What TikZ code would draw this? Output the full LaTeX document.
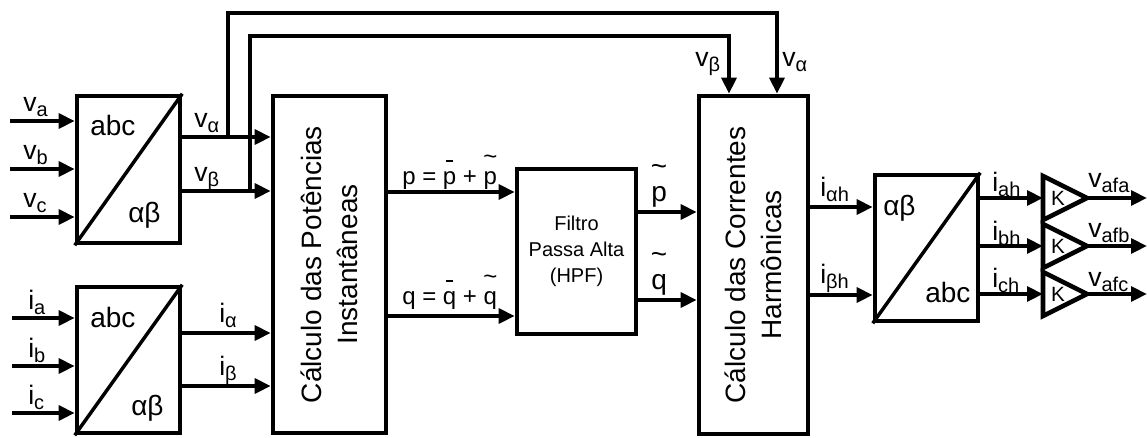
\documentclass[tikz,border=0pt]{standalone}
\usepackage{fontspec}
\setmainfont{Liberation Sans}
\usetikzlibrary{arrows.meta}
\newcommand{\sbs}[1]{\raisebox{-0.2em}{\fontsize{15}{15}\selectfont #1}}
\newcommand{\tlo}[2][0.62em]{\ooalign{#2\cr\hidewidth\raisebox{#1}{\textasciitilde}\hidewidth\cr}}
\newcommand{\bro}[2][0.93em]{\ooalign{#2\cr\hidewidth\raisebox{#1}{\rule{0.3em}{0.07em}}\hidewidth\cr}}
\tikzset{
  blk/.style={draw, line width=3.4pt, inner sep=0pt},
  arr/.style={line width=3.4pt, -{Triangle[length=12pt,width=11pt]}},
  wire/.style={line width=3.4pt},
  lbl/.style={font=\fontsize{20}{24}\selectfont, inner sep=0pt, anchor=base west},
  big/.style={font=\fontsize{21}{25}\selectfont, inner sep=0pt, anchor=base west},
  vtxt/.style={font=\fontsize{21}{27}\selectfont, rotate=90, align=center, inner sep=0pt},
  eq/.style={font=\fontsize{18}{22}\selectfont, inner sep=0pt, anchor=base west},
}
\begin{document}
\begin{tikzpicture}[x=0.75pt,y=-0.75pt]
\useasboundingbox (0,0) rectangle (1147,437);
% blocks
\node[blk, minimum width=77.25pt, minimum height=110.25pt] (T1) at (128.5,169.5) {};
\node[blk, minimum width=77.25pt, minimum height=109.5pt] (T2) at (128.5,360) {};
\node[blk, minimum width=84.75pt, minimum height=252.75pt] (Pot) at (329.5,264.5) {};
\node[blk, minimum width=89.25pt, minimum height=123.75pt, align=center, font=\fontsize{15}{19.5}\selectfont] (Fil) at (576.5,251.5) {Filtro\\Passa Alta\\(HPF)};
\node[blk, minimum width=81.75pt, minimum height=253.5pt] (Har) at (753.5,265) {};
\node[blk, minimum width=77.25pt, minimum height=109.5pt] (Inv) at (926.5,248) {};
\node[vtxt] (PotT) at (Pot.center) {Cálculo das Potências\\Instantâneas};
\node[vtxt] (HarT) at (Har.center) {Cálculo das Correntes\\Harmônicas};
% diagonals
\draw[line width=2.6pt] (T1.south west) -- (T1.north east);
\draw[line width=2.6pt] (T2.south west) -- (T2.north east);
\draw[line width=2.6pt] (Inv.south west) -- (Inv.north east);
\node[big] (t1a) at (90,135) {abc};
\node[big] (t1b) at (128,222) {αβ};
\node[big] (t2a) at (90,327) {abc};
\node[big] (t2b) at (131,415) {αβ};
\node[big] (ia1) at (883,215) {αβ};
\node[big] (ia2) at (925,302) {abc};
% inputs
\coordinate (sva) at (10,121); \coordinate (svb) at (10,169); \coordinate (svc) at (10,217);
\coordinate (sia) at (12,318); \coordinate (sib) at (12,366); \coordinate (sic) at (12,413);
\draw[arr] (sva) -- (T1.west|-sva);
\draw[arr] (svb) -- (T1.west|-svb);
\draw[arr] (svc) -- (T1.west|-svc);
\draw[arr] (sia) -- (T2.west|-sia);
\draw[arr] (sib) -- (T2.west|-sib);
\draw[arr] (sic) -- (T2.west|-sic);
\node[lbl] (lva) at (23,111) {v\sbs{a}};
\node[lbl] (lvb) at (23,159) {v\sbs{b}};
\node[lbl] (lvc) at (23,207) {v\sbs{c}};
\node[lbl] (lia) at (28,309) {i\sbs{a}};
\node[lbl] (lib) at (28,357) {i\sbs{b}};
\node[lbl] (lic) at (28,404) {i\sbs{c}};
% v alpha beta
\coordinate (yva) at (0,137); \coordinate (yvb) at (0,191);
\coordinate (yia) at (0,333); \coordinate (yib) at (0,386);
\draw[arr] (T1.east|-yva) -- (Pot.west|-yva);
\draw[arr] (T1.east|-yvb) -- (Pot.west|-yvb);
\draw[arr] (T2.east|-yia) -- (Pot.west|-yia);
\draw[arr] (T2.east|-yib) -- (Pot.west|-yib);
\node[lbl] (lvalpha) at (194,127) {v\sbs{α}};
\node[lbl] (lvbeta) at (194,181) {v\sbs{β}};
\node[lbl] (lialpha) at (219,322) {i\sbs{α}};
\node[lbl] (libeta) at (219,375) {i\sbs{β}};
% feedback
\coordinate (ba) at (228,137); \coordinate (bb) at (250,191);
\coordinate (ca) at (777,13); \coordinate (cb) at (729,36);
\draw[arr] (ba) -- (ba|-ca) -- (ca) -- (Har.north-|ca);
\draw[arr] (bb) -- (bb|-cb) -- (cb) -- (Har.north-|cb);
\node[lbl] (lfb) at (695,66) {v\sbs{β}};
\node[lbl] (lfa) at (782,66) {v\sbs{α}};
% p q
\coordinate (yp) at (0,192); \coordinate (yq) at (0,316);
\draw[arr] (Pot.east|-yp) -- (Fil.west|-yp);
\draw[arr] (Pot.east|-yq) -- (Fil.west|-yq);
\node[eq] (lp) at (402,184) {p = \bro{p} + \tlo[0.8em]{p}};
\node[eq] (lq) at (402,304) {q = \bro{q} + \tlo[0.8em]{q}};
\coordinate (ypt) at (0,212); \coordinate (yqt) at (0,300);
\draw[arr] (Fil.east|-ypt) -- (Har.west|-ypt);
\draw[arr] (Fil.east|-yqt) -- (Har.west|-yqt);
\node[big] (lpt) at (651,201) {\tlo[0.9em]{p}};
\node[big] (lqt) at (651,289) {\tlo[0.9em]{q}};
% harmonic currents
\coordinate (yah) at (0,207); \coordinate (ybh) at (0,295);
\draw[arr] (Har.east|-yah) -- (Inv.west|-yah);
\draw[arr] (Har.east|-ybh) -- (Inv.west|-ybh);
\node[lbl] (liah) at (820,196) {i\sbs{αh}};
\node[lbl] (libh) at (820,283) {i\sbs{βh}};
% gains
\foreach \n/\y in {a/198, b/246, c/294}{
  \coordinate (K\n) at (1043,\y);
  \coordinate (A\n) at (1087,\y);
  \coordinate (E\n) at (1147,\y);
  \draw[wire, line join=miter] (1043,\y-22) -- (A\n) -- (1043,\y+22) -- cycle;
  \node[font=\fontsize{15.5}{15.5}\selectfont, inner sep=0pt] (KL\n) at (1058,\y) {K};
  \draw[arr] (Inv.east|-K\n) -- (K\n);
  \draw[arr] (A\n) -- (E\n);
}
\node[lbl] (liah2) at (992,191) {i\sbs{ah}};
\node[lbl] (libh2) at (992,240) {i\sbs{bh}};
\node[lbl] (lich2) at (992,287) {i\sbs{ch}};
\node[lbl] (lvfa) at (1088,187) {v\sbs{afa}};
\node[lbl] (lvfb) at (1088,237) {v\sbs{afb}};
\node[lbl] (lvfc) at (1088,286) {v\sbs{afc}};
\end{tikzpicture}
\end{document}
